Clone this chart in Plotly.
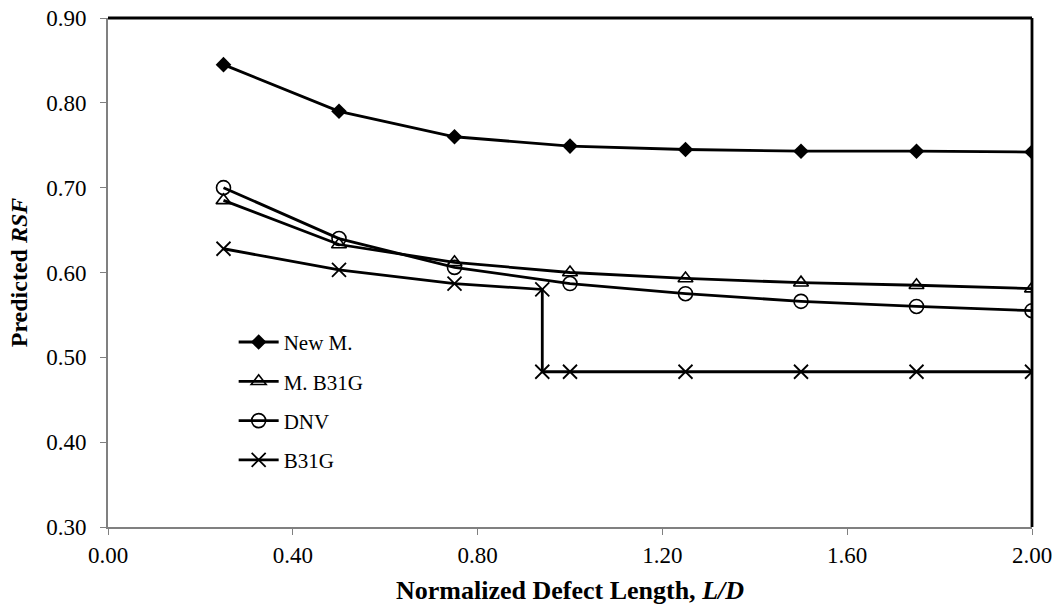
import plotly.graph_objects as go

# Normalized defect length L/D
ld = [0.25, 0.50, 0.75, 1.00, 1.25, 1.50, 1.75, 2.00]

new_m = [0.845, 0.790, 0.760, 0.749, 0.745, 0.743, 0.743, 0.742]
m_b31g = [0.685, 0.633, 0.612, 0.600, 0.593, 0.588, 0.585, 0.581]
dnv = [0.700, 0.640, 0.606, 0.587, 0.575, 0.566, 0.560, 0.555]

# B31G drops at the validity limit of L/D
b31g_ld = [0.25, 0.50, 0.75, 0.94, 0.94, 1.00, 1.25, 1.50, 1.75, 2.00]
b31g = [0.628, 0.603, 0.587, 0.580, 0.483, 0.483, 0.483, 0.483, 0.483, 0.483]

x_ticks = [0.0, 0.4, 0.8, 1.2, 1.6, 2.0]
y_ticks = [0.3, 0.4, 0.5, 0.6, 0.7, 0.8, 0.9]

FONT = "Liberation Serif, Times New Roman, serif"

series = [
    ("New M.", ld, new_m, dict(symbol="diamond", size=12, color="black")),
    ("M. B31G", ld, m_b31g, dict(symbol="triangle-up-open", size=13, color="black",
                                 line=dict(width=1.6, color="black"))),
    ("DNV", ld, dnv, dict(symbol="circle-open", size=14, color="black",
                          line=dict(width=1.6, color="black"))),
    ("B31G", b31g_ld, b31g, dict(symbol="x-thin-open", size=14, color="black",
                                 line=dict(width=1.8, color="black"))),
]

fig = go.Figure()
for i, (name, xs, ys, mk) in enumerate(series):
    fig.add_trace(go.Scatter(
        x=xs, y=ys, name=name, mode="lines+markers",
        line=dict(color="black", width=2.8),
        marker=mk, legendgroup=f"g{i}",
    ))

# Black frame on the top and right sides of the plotting area
fig.add_shape(type="line", xref="paper", yref="paper", x0=0, x1=1, y0=1, y1=1,
              line=dict(color="black", width=2.8))
fig.add_shape(type="line", xref="paper", yref="paper", x0=1, x1=1, y0=0, y1=1,
              line=dict(color="black", width=2.8))

fig.update_layout(
    width=1056, height=608,
    margin=dict(l=108, r=24, t=18, b=81),
    paper_bgcolor="white", plot_bgcolor="white",
    font=dict(family=FONT, size=23, color="black"),
    showlegend=True,
    legend=dict(
        x=0.136, y=0.403, xanchor="left", yanchor="top",
        bgcolor="rgba(0,0,0,0)", font=dict(family=FONT, size=21),
        tracegroupgap=9, itemwidth=40,
    ),
    xaxis=dict(
        range=[0, 2.0], tickvals=x_ticks, ticktext=[f"{v:.2f}" for v in x_ticks],
        showgrid=False, zeroline=False, showline=True, linecolor="#808080", linewidth=2,
        ticks="outside", ticklen=6, tickcolor="#808080", tickwidth=1,
        automargin=False,
        title=dict(text="<b>Normalized Defect Length, <i>L/D</i></b>",
                   font=dict(family=FONT, size=26), standoff=14),
    ),
    yaxis=dict(
        range=[0.3, 0.9], tickvals=y_ticks, ticktext=[f"{v:.2f}" for v in y_ticks],
        showgrid=False, zeroline=False, showline=True, linecolor="#808080", linewidth=2,
        ticks="outside", ticklen=6, tickcolor="#808080", tickwidth=1,
        ticklabelstandoff=9, automargin=False,
        title=dict(text="<b>Predicted <i>RSF</i></b>",
                   font=dict(family=FONT, size=24), standoff=12),
    ),
)

fig.write_html("out.html")
